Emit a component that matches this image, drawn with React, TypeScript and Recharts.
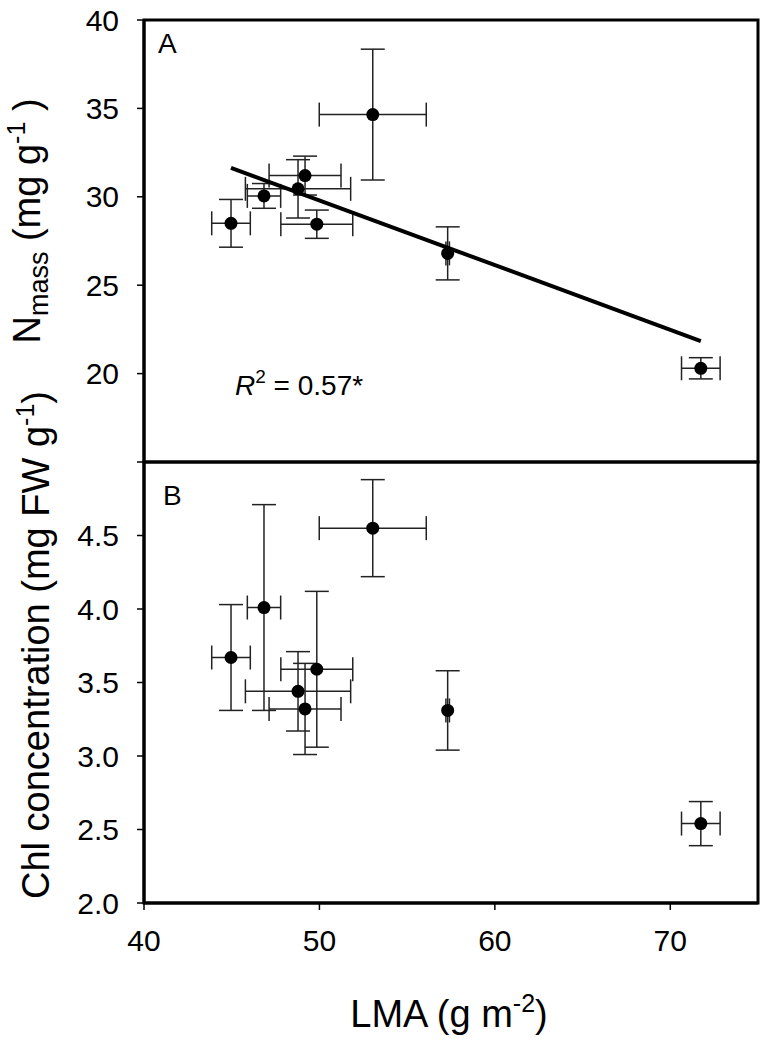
import { ScatterChart, Scatter, XAxis, YAxis, ErrorBar, ReferenceArea, Label } from 'recharts'

const lma = [44.96, 46.84, 48.78, 49.18, 49.85, 53.04, 57.31, 71.74]
const lmaSe = [1.1, 0.95, 3.0, 2.05, 2.05, 3.05, 0.1, 1.1]
const nmass = [28.5, 30.05, 30.45, 31.2, 28.45, 34.65, 26.8, 20.3]
const nmassSe = [1.35, 0.7, 1.65, 1.1, 0.8, 3.7, 1.5, 0.6]
const chl = [3.67, 4.01, 3.44, 3.32, 3.59, 4.55, 3.31, 2.54]
const chlSe = [0.36, 0.7, 0.27, 0.31, 0.53, 0.33, 0.27, 0.15]
// regression line end points
const fitLma = [44.96, 71.74]
const fitNmass = [31.64, 21.84]

const xTicks = [40, 50, 60, 70]
const nTicks = [15, 20, 25, 30, 35, 40]
const chlTicks = [2.0, 2.5, 3.0, 3.5, 4.0, 4.5]

const topData = lma.map((x, i) => ({ x, xe: lmaSe[i], y: nmass[i], ye: nmassSe[i] }))
const bottomData = lma.map((x, i) => ({ x, xe: lmaSe[i], y: chl[i], ye: chlSe[i] }))
const fitData = fitLma.map((x, i) => ({ x, y: fitNmass[i] }))

const font = '"Liberation Sans", Arial, sans-serif'
const tickStyle = { fill: '#000', fontSize: 30, fontFamily: font }

const Dot = (p: any) => <circle cx={p.cx} cy={p.cy} r={6.5} fill="#000" />
const NoDot = () => <g />

function NmassLabel() {
  return (
    <text x={40} y={221} transform="rotate(-90 40 221)" textAnchor="middle" fontSize={38} fontFamily={font} fill="#000">
      N<tspan fontSize={27} dy={8}>mass</tspan>
      <tspan dy={-8}> (mg g</tspan>
      <tspan fontSize={25} dy={-15}>-1</tspan>
      <tspan dy={15}> )</tspan>
    </text>
  )
}

function ChlLabel() {
  return (
    <text x={49} y={645} transform="rotate(-90 49 645)" textAnchor="middle" fontSize={38} fontFamily={font} fill="#000">
      Chl concentration (mg FW g<tspan fontSize={25} dy={-15}>-1</tspan>
      <tspan dy={15}>)</tspan>
    </text>
  )
}

function LmaLabel() {
  return (
    <text x={449} y={1027} textAnchor="middle" fontSize={38} fontFamily={font} fill="#000">
      LMA (g m<tspan fontSize={25} dy={-15}>-2</tspan>
      <tspan dy={15}>)</tspan>
    </text>
  )
}

const layer = { position: 'absolute' as const, left: 0, top: 0 }

export default function App() {
  return (
    <div style={{ position: 'absolute', left: 0, top: 0, width: 768, height: 1041, background: '#fff' }}>
      <div style={layer}>
        <ScatterChart width={768} height={1041} margin={{ top: 20, right: 10, bottom: 579, left: 0 }}>
          <XAxis type="number" dataKey="x" domain={[40, 75]} ticks={xTicks} hide />
          <YAxis
            type="number"
            dataKey="y"
            domain={[15, 40]}
            ticks={nTicks}
            width={144}
            tickSize={7}
            tickMargin={18}
            tick={tickStyle}
            tickFormatter={(v: number) => (v === 15 ? '' : String(v))}
            axisLine={{ stroke: '#000', strokeWidth: 3 }}
            tickLine={{ stroke: '#000', strokeWidth: 1.5 }}
          >
            <Label content={NmassLabel} />
          </YAxis>
          <ReferenceArea x1={40} x2={75} y1={15} y2={40} fill="none" stroke="#000" strokeWidth={3} ifOverflow="visible" />
          <Scatter data={fitData} line={{ stroke: '#000', strokeWidth: 4 }} shape={NoDot} isAnimationActive={false} />
          <Scatter data={topData} shape={Dot} isAnimationActive={false}>
            <ErrorBar dataKey="xe" direction="x" width={12} stroke="#222" strokeWidth={1.5} />
            <ErrorBar dataKey="ye" direction="y" width={12} stroke="#222" strokeWidth={1.5} />
          </Scatter>
          <text x={158} y={53} fontSize={28} fontFamily={font} fill="#000">A</text>
          <text x={235} y={395} fontSize={28} fontFamily={font} fill="#000">
            <tspan fontStyle="italic">R</tspan>
            <tspan fontSize={19} dy={-12}>2</tspan>
            <tspan dy={12}> = 0.57*</tspan>
          </text>
        </ScatterChart>
      </div>
      <div style={layer}>
        <ScatterChart width={768} height={1041} margin={{ top: 462, right: 10, bottom: 0, left: 0 }}>
          <XAxis
            type="number"
            dataKey="x"
            domain={[40, 75]}
            ticks={xTicks}
            height={138}
            tickSize={7}
            tickMargin={20}
            tick={tickStyle}
            axisLine={{ stroke: '#000', strokeWidth: 3 }}
            tickLine={{ stroke: '#000', strokeWidth: 1.5 }}
          >
            <Label content={LmaLabel} />
          </XAxis>
          <YAxis
            type="number"
            dataKey="y"
            domain={[2, 5]}
            ticks={chlTicks}
            width={144}
            tickSize={7}
            tickMargin={18}
            tick={tickStyle}
            tickFormatter={(v: number) => v.toFixed(1)}
            axisLine={{ stroke: '#000', strokeWidth: 3 }}
            tickLine={{ stroke: '#000', strokeWidth: 1.5 }}
          >
            <Label content={ChlLabel} />
          </YAxis>
          <ReferenceArea x1={40} x2={75} y1={2} y2={5} fill="none" stroke="#000" strokeWidth={3} ifOverflow="visible" />
          <Scatter data={bottomData} shape={Dot} isAnimationActive={false}>
            <ErrorBar dataKey="xe" direction="x" width={12} stroke="#222" strokeWidth={1.5} />
            <ErrorBar dataKey="ye" direction="y" width={12} stroke="#222" strokeWidth={1.5} />
          </Scatter>
          <text x={163} y={505} fontSize={28} fontFamily={font} fill="#000">B</text>
        </ScatterChart>
      </div>
    </div>
  )
}
